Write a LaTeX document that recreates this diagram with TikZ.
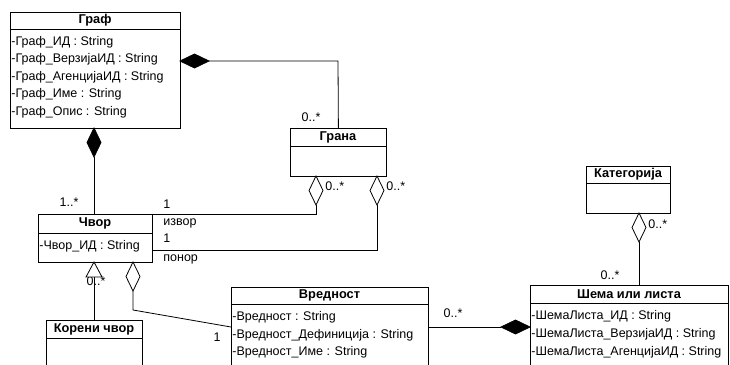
\documentclass[tikz,border=0pt]{standalone}
\usepackage{fontspec}
\setmainfont{Liberation Sans}
\begin{document}
\begin{tikzpicture}[x=1pt,y=-1pt, line width=0.8pt,
  box/.style={draw, anchor=north west, inner sep=0pt, fill=white},
  ttl/.style={inner sep=0pt, font=\fontsize{12.8}{14}\selectfont\bfseries},
  attr/.style={anchor=west, inner sep=0pt, font=\fontsize{12.5}{14}\selectfont},
  lbl/.style={inner sep=0pt, font=\fontsize{12.5}{14}\selectfont},
  fdia/.style={draw, fill=black},
  hdia/.style={draw, fill=white}]
\clip (0,0) rectangle (730,364);
\fill[white] (0,0) rectangle (730,364);

% ---------- Граф ----------
\node[box, minimum width=170pt, minimum height=116pt] (graf) at (10,12) {};
\draw (10,29) -- (180,29);
\node[ttl] (grafT) at (95,20.5) {Граф};
\node[attr] (g1) at (11,42) {-Граф\_ИД : String};
\node[attr] (g2) at (11,59.5) {-Граф\_ВерзијаИД : String};
\node[attr] (g3) at (11,77) {-Граф\_АгенцијаИД : String};
\node[attr] (g4) at (11,94.5) {-Граф\_Име : String};
\node[attr] (g5) at (11,112) {-Граф\_Опис : String};

% ---------- Грана ----------
\node[box, minimum width=96pt, minimum height=48pt] (grana) at (290,128) {};
\draw (290,146) -- (386,146);
\node[ttl] (granaT) at (338,137) {Грана};

% ---------- Чвор ----------
\node[box, minimum width=114pt, minimum height=48pt] (cvor) at (38,214) {};
\draw (38,233) -- (152,233);
\node[ttl] (cvorT) at (95,223.5) {Чвор};
\node[attr] (cv1) at (39,246) {-Чвор\_ИД : String};

% ---------- Корени чвор ----------
\node[box, minimum width=96pt, minimum height=60pt] (koren) at (46,320) {};
\draw (46,338) -- (142,338);
\node[ttl] (korenT) at (94,329) {Корени чвор};

% ---------- Вредност ----------
\node[box, minimum width=197pt, minimum height=90pt] (vred) at (231,287) {};
\draw (231,304) -- (428,304);
\node[ttl] (vredT) at (329.5,295.5) {Вредност};
\node[attr] (v1) at (232,317) {-Вредност : String};
\node[attr] (v2) at (232,335) {-Вредност\_Дефиниција : String};
\node[attr] (v3) at (232,352.5) {-Вредност\_Име : String};

% ---------- Категорија ----------
\node[box, minimum width=84pt, minimum height=47pt] (kat) at (586,166) {};
\draw (586,183) -- (670,183);
\node[ttl] (katT) at (628,174.5) {Категорија};

% ---------- Шема или листа ----------
\node[box, minimum width=198pt, minimum height=90pt] (sema) at (530,285) {};
\draw (530,303) -- (728,303);
\node[ttl] (semaT) at (629,294) {Шема или листа};
\node[attr] (s1) at (531,316) {-ШемаЛиста\_ИД : String};
\node[attr] (s2) at (531,334) {-ШемаЛиста\_ВерзијаИД : String};
\node[attr] (s3) at (531,352) {-ШемаЛиста\_АгенцијаИД : String};

% ---------- Граф -- Грана (composition) ----------
\coordinate (c1) at (180,61);
\coordinate (c1t) at (209,61);
\coordinate (c1b) at (338,61);
\draw (c1t) -- (c1b) -- (grana.north);
\draw[fdia] (c1) -- ++(14.5,-7) -- (c1t) -- ++(-14.5,7) -- cycle;
\node[lbl] (l1) at (311,117) {0..*};

% ---------- Граф -- Чвор (composition) ----------
\coordinate (c2) at (94,128);
\coordinate (c2t) at (94,157);
\draw (c2t) -- (c2t |- cvor.north);
\draw[fdia] (c2) -- ++(-7,14.5) -- (c2t) -- ++(7,-14.5) -- cycle;
\node[lbl] (l2) at (69,202) {1..*};

% ---------- Грана -- Чвор (извор) ----------
\coordinate (c3) at (316,176);
\coordinate (c3t) at (316,205);
\draw (c3t) -- (c3t |- cvor.north east) -- (cvor.north east);
\draw[hdia] (c3) -- ++(-7,14.5) -- (c3t) -- ++(7,-14.5) -- cycle;
\node[lbl, anchor=west] (l3) at (325,186) {0..*};
\node[lbl, anchor=west] (l4) at (163,204) {1};
\node[lbl, anchor=west] (l5) at (163,223) {извор};

% ---------- Грана -- Чвор (понор) ----------
\coordinate (c4) at (377,176);
\coordinate (c4t) at (377,205);
\coordinate (c4b) at (377,250);
\coordinate (c4e) at (152,250);
\draw (c4t) -- (c4b) -- (c4e);
\draw[hdia] (c4) -- ++(-7,14.5) -- (c4t) -- ++(7,-14.5) -- cycle;
\node[lbl, anchor=west] (l6) at (386,186) {0..*};
\node[lbl, anchor=west] (l7) at (163,238) {1};
\node[lbl, anchor=west] (l8) at (163,259) {понор};

% ---------- Чвор -- Корени чвор (inheritance) ----------
\coordinate (c5) at (94,262);
\coordinate (c5b) at (94,277);
\node[lbl] (l9) at (96,281) {0..*};
\draw (c5b) -- (c5b |- koren.north);
\draw[hdia] (c5) -- (86,277) -- (102,277) -- cycle;

% ---------- Чвор -- Вредност (aggregation) ----------
\coordinate (c6) at (133,262);
\coordinate (c6t) at (133,291);
\coordinate (c6b) at (133,310);
\coordinate (c6e) at (231,327);
\draw (c6t) -- (c6b) -- (c6e);
\draw[hdia] (c6) -- ++(-7,14.5) -- (c6t) -- ++(7,-14.5) -- cycle;
\node[lbl] (l10) at (217,337) {1};

% ---------- Вредност -- Шема (composition) ----------
\coordinate (c7s) at (428,327);
\coordinate (c7) at (530,327);
\coordinate (c7t) at (501,327);
\draw (c7s) -- (c7t);
\draw[fdia] (c7) -- ++(-14.5,-7) -- (c7t) -- ++(14.5,7) -- cycle;
\node[lbl] (l11) at (453,313) {0..*};

% ---------- Категорија -- Шема (aggregation) ----------
\coordinate (c8) at (639,213);
\coordinate (c8t) at (639,242);
\draw (c8t) -- (c8t |- sema.north);
\draw[hdia] (c8) -- ++(-7,14.5) -- (c8t) -- ++(7,-14.5) -- cycle;
\node[lbl, anchor=west] (l12) at (648,224) {0..*};
\node[lbl] (l13) at (610,275) {0..*};
\end{tikzpicture}
\end{document}
